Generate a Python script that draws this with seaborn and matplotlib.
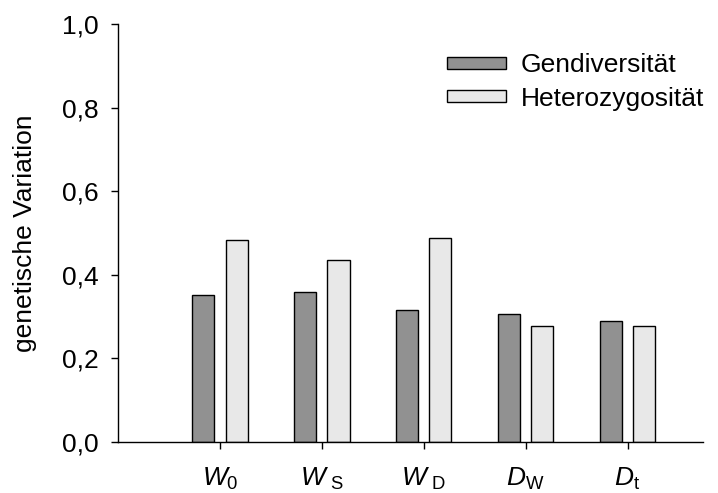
import matplotlib
matplotlib.use("Agg")
import matplotlib.pyplot as plt
import numpy as np
import pandas as pd
import seaborn as sns

# categories and values
sites = ["$W_0$", "$W_\\mathrm{\\ S}$", "$W_\\mathrm{\\ D}$", "$D_\\mathrm{W}$", "$D_\\mathrm{t}$"]
gendiv = [0.351, 0.359, 0.316, 0.307, 0.290]
hetero = [0.482, 0.435, 0.488, 0.276, 0.276]
series = ["Gendiversität", "Heterozygosität"]
y_ticks = [0.0, 0.2, 0.4, 0.6, 0.8, 1.0]

df = pd.DataFrame({
    "site": sites * 2,
    "value": gendiv + hetero,
    "series": [series[0]] * len(sites) + [series[1]] * len(sites),
})

sns.set_style("ticks")
plt.rcParams["font.family"] = ["Liberation Sans", "DejaVu Sans"]
plt.rcParams["mathtext.fontset"] = "custom"
plt.rcParams["mathtext.rm"] = "Liberation Sans"
plt.rcParams["mathtext.it"] = "Liberation Sans:italic"
plt.rcParams["font.size"] = 19
plt.rcParams["text.color"] = "black"
plt.rcParams["axes.labelcolor"] = "black"
plt.rcParams["axes.edgecolor"] = "black"
plt.rcParams["xtick.color"] = "black"
plt.rcParams["ytick.color"] = "black"

fig = plt.figure(figsize=(7.18, 4.93), dpi=100)
ax = fig.add_axes([0.1643, 0.104, 0.8147, 0.847])

sns.barplot(data=df, x="site", y="value", hue="series", order=sites,
            palette=["#919191", "#e8e8e8"], width=0.656, gap=0.34,
            edgecolor="black", linewidth=1.0, ax=ax)

ax.set_xlim(-1.0, 4.74)
ax.set_ylim(0, 1.0)
ax.set_yticks(y_ticks)
ax.set_yticklabels([f"{t:.1f}".replace(".", ",") for t in y_ticks], fontsize=19)
ax.tick_params(axis="y", length=5, width=1, pad=9)
ax.tick_params(axis="x", length=5, width=1, labelsize=19, pad=12)
ax.set_xlabel("")
ax.set_ylabel("genetische Variation", fontsize=19, labelpad=18)
sns.despine(ax=ax)
for s in ["left", "bottom"]:
    ax.spines[s].set_linewidth(1.0)

leg = ax.legend(loc="upper left", bbox_to_anchor=(0.540, 0.962), frameon=False,
                fontsize=19, handlelength=2.23, handleheight=0.35, borderpad=0,
                handletextpad=0.57, labelspacing=0.36)

fig.savefig("out.png", dpi=100)
